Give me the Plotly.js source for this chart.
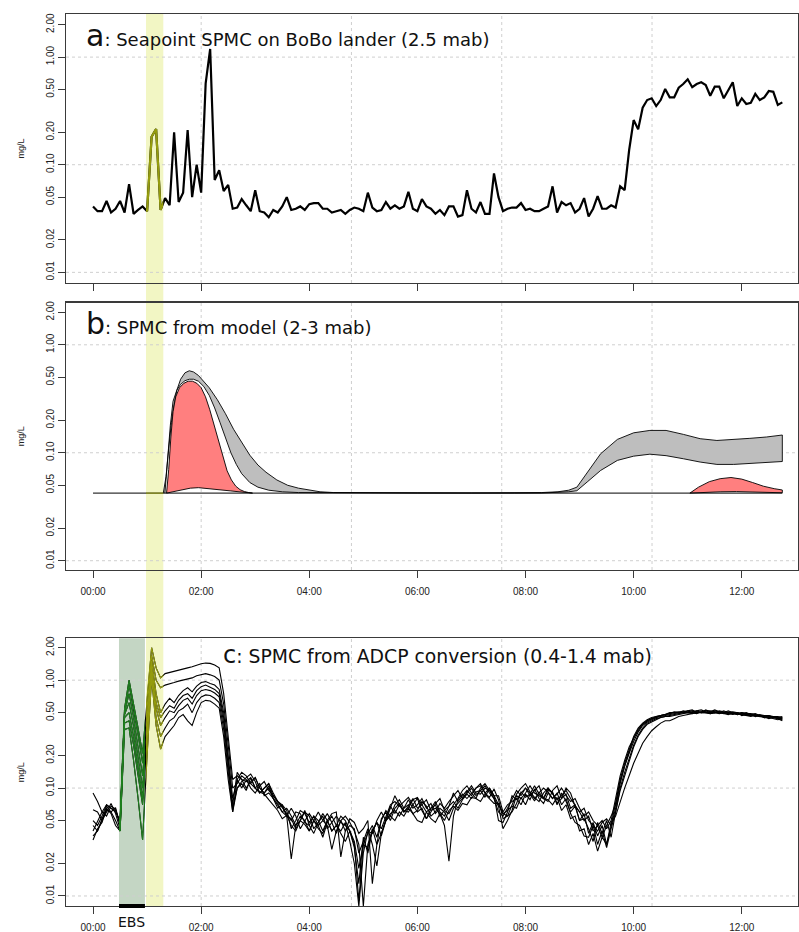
<!DOCTYPE html>
<html><head><meta charset="utf-8">
<script src="https://cdn.plot.ly/plotly-3.0.1.min.js"></script>
<style>html,body{margin:0;padding:0;background:#fff}#chart{width:799px;height:932px}</style>
</head><body><div id="chart"></div>
<script>
// ---------------- DATA ----------------
const sampleStepHours = 5 / 60;               // 5-minute sampling
const timeTickVals = [0, 2, 4, 6, 8, 10, 12];
const timeTickLabels = ["00:00", "02:00", "04:00", "06:00", "08:00", "10:00", "12:00"];
const yTickVals = [0.01, 0.02, 0.05, 0.1, 0.2, 0.5, 1, 2];
const yTickLabels = ["0.01", "0.02", "0.05", "0.10", "0.20", "0.50", "1.00", "2.00"];
const yAxisLabel = "mg/L";
const panelLetters = ["a", "b", "c"];
const panelTitles = [": Seapoint SPMC on BoBo lander (2.5 mab)", ": SPMC from model (2-3 mab)", ": SPMC from ADCP conversion (0.4-1.4 mab)"];
const yellowWindow = [0.98, 1.30];   // hours
const ebsWindow = [0.48, 0.96];      // hours
const ebsLabel = "EBS";
const gridTimes = [2.0, 4.78, 7.56, 10.34];
const gridLevels = [0.01, 0.1, 1];

// Panel a: Seapoint SPMC (mg/L), 5-min samples from 00:00
const seapointSPMC = [
0.041,0.037,0.037,0.046,0.036,0.039,0.046,0.036,0.066,0.035,0.038,0.041,
0.037,0.182,0.215,0.038,0.049,0.042,0.200,0.045,0.055,0.210,0.050,0.100,
0.055,0.57,1.19,0.072,0.089,0.057,0.065,0.039,0.040,0.048,0.042,0.037,
0.058,0.037,0.036,0.0325,0.038,0.036,0.041,0.050,0.038,0.039,0.041,0.038,
0.043,0.044,0.044,0.039,0.039,0.036,0.037,0.038,0.035,0.038,0.040,0.039,
0.037,0.055,0.040,0.037,0.038,0.045,0.039,0.042,0.039,0.041,0.056,0.039,
0.037,0.048,0.041,0.039,0.035,0.038,0.034,0.041,0.041,0.033,0.034,0.058,
0.039,0.036,0.045,0.035,0.035,0.083,0.050,0.037,0.039,0.040,0.040,0.044,
0.038,0.039,0.037,0.037,0.039,0.041,0.063,0.036,0.045,0.042,0.044,0.036,
0.039,0.049,0.033,0.039,0.051,0.039,0.039,0.042,0.040,0.063,0.058,0.137,
0.260,0.213,0.339,0.399,0.414,0.351,0.399,0.505,0.423,0.423,0.520,0.562,
0.622,0.525,0.562,0.583,0.551,0.437,0.531,0.531,0.414,0.494,0.583,0.351,
0.414,0.367,0.376,0.455,0.399,0.423,0.484,0.476,0.359,0.380];

// Panel b: model envelope curves (hours, mg/L)
const modelBaseT = [0, 12.75];
const modelBaseV = [0.0423, 0.0423];
const grayHiT = [1.30,1.35,1.40,1.45,1.50,1.55,1.62,1.70,1.78,1.86,1.95,2.05,2.15,2.30,2.45,2.60,2.75,2.90,3.05,3.20,3.40,3.60,3.80,4.00,4.20,4.45,5.0,6.0,7.0,7.8,8.3,8.6,8.8,8.95,9.14,9.39,9.7,10.0,10.3,10.6,10.92,11.23,11.54,11.85,12.15,12.46,12.75];
const grayHiV = [0.0423,0.06,0.11,0.19,0.28,0.38,0.48,0.55,0.575,0.56,0.52,0.46,0.40,0.31,0.23,0.165,0.125,0.095,0.077,0.066,0.056,0.05,0.047,0.045,0.0435,0.0428,0.0425,0.0424,0.0424,0.0425,0.0428,0.0435,0.045,0.048,0.066,0.098,0.133,0.153,0.161,0.161,0.148,0.135,0.130,0.132,0.136,0.140,0.146];
const grayLoT = [1.33,1.38,1.43,1.48,1.55,1.62,1.70,1.78,1.86,1.95,2.05,2.15,2.25,2.35,2.45,2.55,2.65,2.75,2.90,3.05,3.25,3.50,3.80,4.20,4.45,5.0,6.0,7.0,7.8,8.3,8.6,8.8,8.95,9.14,9.39,9.7,10.0,10.3,10.6,10.92,11.23,11.54,11.85,12.15,12.46,12.75];
const grayLoV = [0.0423,0.08,0.18,0.3,0.38,0.43,0.465,0.48,0.48,0.46,0.41,0.34,0.26,0.19,0.135,0.10,0.078,0.064,0.053,0.048,0.045,0.0435,0.0428,0.0424,0.0423,0.0423,0.0423,0.0423,0.0423,0.0424,0.0428,0.0435,0.0445,0.0536,0.0686,0.085,0.093,0.097,0.094,0.088,0.082,0.078,0.078,0.079,0.081,0.083];
const red1HiT = [1.36,1.40,1.44,1.48,1.53,1.60,1.68,1.76,1.84,1.92,2.00,2.08,2.16,2.24,2.32,2.40,2.48,2.56,2.64,2.72,2.80,2.88,2.95];
const red1HiV = [0.0423,0.07,0.14,0.24,0.33,0.40,0.44,0.46,0.46,0.44,0.40,0.33,0.25,0.18,0.125,0.09,0.068,0.056,0.049,0.0455,0.0437,0.0428,0.0423];
const red1LoT = [1.36,1.5,1.65,1.8,1.95,2.1,2.25,2.4,2.55,2.7,2.85,2.95];
const red1LoV = [0.0423,0.0435,0.0455,0.047,0.0475,0.0472,0.0462,0.0452,0.0443,0.0435,0.0427,0.0423];
const red2HiT = [11.04,11.2,11.4,11.6,11.8,12.0,12.2,12.4,12.6,12.75];
const red2HiV = [0.0423,0.048,0.054,0.0575,0.059,0.057,0.053,0.049,0.0465,0.0452];
const red2LoT = [11.04,11.3,11.6,11.9,12.2,12.5,12.75];
const red2LoV = [0.0423,0.043,0.0435,0.0437,0.0435,0.043,0.0426];

// Panel c: ADCP-derived SPMC, 7 bins, 5-min samples from 00:00
const adcpBin1 = [0.09,0.075,0.06,0.07,0.065,0.06,0.05,0.55,1.0,0.62,0.36,0.21,0.7,2.0,1.3,1.05,1.15,1.18,1.22,1.25,1.28,1.3,1.33,1.38,1.42,1.44,1.43,1.38,1.3,0.75,0.3,0.12,
0.13,0.12,0.1,0.115,0.125,0.1,0.09,0.1,0.08,0.07,0.06,0.065,
0.055,0.045,0.05,0.06,0.055,0.042,0.048,0.058,0.05,0.04,0.045,0.055,
0.05,0.04,0.03,0.009,0.03,0.038,0.045,0.035,0.05,0.062,0.055,0.07,
0.078,0.065,0.07,0.058,0.062,0.075,0.068,0.055,0.06,0.072,0.065,0.075,
0.085,0.095,0.08,0.09,0.1,0.085,0.095,0.105,0.09,0.08,0.06,0.055,
0.065,0.08,0.095,0.085,0.1,0.09,0.08,0.09,0.1,0.092,0.08,0.088,
0.1,0.085,0.075,0.08,0.065,0.055,0.06,0.05,0.045,0.05,0.042,0.05,
0.08,0.13,0.18,0.24,0.29,0.35,0.39,0.42,0.44,0.46,0.47,0.48,
0.5,0.5,0.51,0.51,0.52,0.5,0.52,0.53,0.51,0.5,0.52,0.51,
0.5,0.51,0.49,0.5,0.48,0.49,0.47,0.48,0.47,0.46,0.47,0.46,
0.45,0.46];
const adcpBin2 = [0.063,0.06,0.05,0.068,0.06,0.066,0.045,0.52,0.9,0.55,0.31,0.17,0.55,1.7,1.0,0.85,0.9,0.92,0.95,0.98,1.0,1.02,1.05,1.1,1.13,1.15,1.12,1.08,1.0,0.6,0.25,0.1,
0.11,0.13,0.12,0.1,0.09,0.105,0.115,0.095,0.085,0.075,0.068,0.055,
0.022,0.045,0.055,0.05,0.04,0.05,0.06,0.05,0.045,0.027,0.04,0.05,
0.055,0.048,0.04,0.03,0.008,0.03,0.04,0.048,0.042,0.055,0.07,0.075,
0.068,0.075,0.082,0.07,0.06,0.065,0.052,0.06,0.072,0.08,0.062,0.058,
0.07,0.08,0.095,0.105,0.09,0.08,0.1,0.11,0.095,0.085,0.07,0.058,
0.055,0.07,0.088,0.1,0.11,0.092,0.082,0.075,0.09,0.1,0.088,0.078,
0.085,0.095,0.08,0.07,0.06,0.065,0.05,0.045,0.04,0.048,0.052,0.045,
0.075,0.12,0.17,0.23,0.3,0.36,0.4,0.43,0.45,0.46,0.47,0.48,
0.49,0.5,0.5,0.52,0.51,0.52,0.51,0.5,0.53,0.51,0.5,0.52,
0.51,0.5,0.5,0.49,0.5,0.48,0.48,0.47,0.48,0.47,0.46,0.46,
0.46,0.45];
const adcpBin3 = [0.05,0.045,0.055,0.07,0.065,0.062,0.048,0.5,0.75,0.45,0.24,0.13,0.45,1.5,0.75,0.5,0.6,0.68,0.62,0.72,0.8,0.85,0.78,0.88,0.95,0.97,0.93,0.9,0.82,0.5,0.2,0.08,
0.12,0.14,0.13,0.11,0.1,0.09,0.1,0.11,0.085,0.075,0.065,0.058,
0.05,0.06,0.058,0.048,0.045,0.055,0.05,0.04,0.05,0.058,0.06,0.023,
0.04,0.052,0.048,0.038,0.042,0.05,0.013,0.03,0.038,0.05,0.065,0.085,
0.07,0.06,0.065,0.078,0.082,0.07,0.06,0.065,0.075,0.06,0.055,0.068,
0.09,0.075,0.085,0.095,0.085,0.1,0.11,0.09,0.1,0.085,0.05,0.048,
0.06,0.085,0.078,0.09,0.1,0.085,0.095,0.105,0.08,0.1,0.09,0.072,
0.08,0.1,0.09,0.068,0.06,0.05,0.055,0.04,0.045,0.035,0.045,0.055,
0.07,0.115,0.16,0.22,0.29,0.34,0.39,0.42,0.44,0.45,0.47,0.48,
0.49,0.51,0.5,0.5,0.52,0.53,0.5,0.51,0.52,0.52,0.51,0.5,
0.52,0.5,0.51,0.5,0.49,0.5,0.48,0.49,0.47,0.47,0.47,0.45,
0.45,0.44];
const adcpBin4 = [0.045,0.04,0.05,0.06,0.072,0.058,0.042,0.48,0.62,0.37,0.19,0.1,0.38,1.35,0.62,0.45,0.52,0.58,0.55,0.65,0.72,0.75,0.68,0.8,0.87,0.9,0.86,0.82,0.75,0.45,0.18,0.07,
0.14,0.12,0.115,0.125,0.1,0.11,0.085,0.09,0.08,0.065,0.07,0.055,
0.065,0.055,0.042,0.05,0.058,0.05,0.045,0.035,0.048,0.055,0.045,0.04,
0.048,0.032,0.02,0.008,0.025,0.04,0.038,0.05,0.06,0.05,0.058,0.062,
0.055,0.065,0.078,0.065,0.07,0.08,0.065,0.072,0.058,0.065,0.06,0.05,
0.065,0.072,0.08,0.092,0.105,0.09,0.088,0.1,0.095,0.08,0.068,0.042,
0.05,0.062,0.085,0.08,0.09,0.105,0.09,0.085,0.08,0.075,0.095,0.105,
0.08,0.088,0.065,0.07,0.05,0.058,0.038,0.048,0.036,0.045,0.03,0.045,
0.065,0.11,0.16,0.21,0.27,0.33,0.38,0.41,0.43,0.45,0.46,0.47,
0.48,0.49,0.5,0.51,0.5,0.51,0.52,0.5,0.5,0.51,0.53,0.51,
0.5,0.52,0.5,0.48,0.5,0.49,0.49,0.48,0.46,0.47,0.45,0.46,
0.44,0.45];
const adcpBin5 = [0.04,0.05,0.06,0.055,0.068,0.064,0.046,0.45,0.5,0.3,0.16,0.08,0.32,1.25,0.55,0.38,0.45,0.52,0.5,0.58,0.65,0.68,0.6,0.72,0.8,0.82,0.8,0.76,0.7,0.4,0.16,0.065,
0.1,0.115,0.125,0.135,0.115,0.09,0.1,0.11,0.09,0.075,0.07,0.062,
0.042,0.05,0.062,0.058,0.048,0.055,0.045,0.05,0.058,0.048,0.038,0.05,
0.04,0.045,0.042,0.025,0.032,0.042,0.03,0.019,0.038,0.05,0.068,0.058,
0.07,0.06,0.068,0.08,0.065,0.07,0.078,0.062,0.065,0.058,0.045,0.021,
0.055,0.078,0.088,0.08,0.09,0.1,0.105,0.09,0.082,0.098,0.078,0.052,
0.055,0.06,0.072,0.092,0.082,0.088,0.105,0.088,0.08,0.095,0.092,0.07,
0.09,0.075,0.06,0.068,0.05,0.052,0.042,0.032,0.048,0.038,0.05,0.035,
0.06,0.1,0.14,0.19,0.25,0.31,0.36,0.4,0.42,0.44,0.45,0.46,
0.47,0.48,0.49,0.5,0.5,0.49,0.51,0.5,0.52,0.5,0.5,0.5,
0.49,0.5,0.49,0.5,0.47,0.48,0.48,0.46,0.47,0.45,0.46,0.45,
0.45,0.43];
const adcpBin6 = [0.036,0.04,0.052,0.062,0.06,0.05,0.04,0.4,0.42,0.25,0.13,0.07,0.28,1.15,0.45,0.3,0.36,0.42,0.45,0.52,0.55,0.6,0.5,0.62,0.7,0.73,0.72,0.68,0.62,0.35,0.14,0.06,
0.12,0.1,0.118,0.11,0.125,0.1,0.09,0.105,0.08,0.072,0.06,0.055,
0.052,0.042,0.05,0.062,0.045,0.038,0.048,0.055,0.042,0.048,0.055,0.048,
0.045,0.04,0.032,0.018,0.03,0.028,0.042,0.03,0.052,0.06,0.05,0.065,
0.072,0.062,0.06,0.07,0.08,0.062,0.052,0.065,0.07,0.055,0.062,0.068,
0.075,0.065,0.078,0.088,0.08,0.092,0.095,0.082,0.1,0.085,0.085,0.06,
0.07,0.075,0.08,0.07,0.088,0.078,0.098,0.08,0.072,0.09,0.08,0.09,
0.07,0.08,0.058,0.048,0.045,0.036,0.035,0.045,0.03,0.04,0.028,0.042,
0.06,0.095,0.13,0.18,0.24,0.3,0.35,0.39,0.41,0.43,0.45,0.46,
0.46,0.47,0.48,0.49,0.5,0.5,0.49,0.51,0.5,0.49,0.5,0.51,
0.49,0.48,0.5,0.48,0.49,0.47,0.47,0.47,0.46,0.45,0.45,0.44,
0.43,0.44];
const adcpBin7 = [0.033,0.042,0.048,0.065,0.058,0.045,0.04,0.35,0.36,0.18,0.08,0.033,0.2,1.05,0.38,0.23,0.3,0.34,0.38,0.45,0.48,0.42,0.38,0.5,0.62,0.65,0.64,0.6,0.55,0.3,0.12,0.06,
0.1,0.11,0.095,0.125,0.1,0.092,0.088,0.078,0.07,0.062,0.052,0.056,
0.045,0.04,0.05,0.046,0.04,0.05,0.042,0.038,0.05,0.04,0.045,0.038,
0.032,0.04,0.028,0.013,0.035,0.025,0.04,0.048,0.036,0.05,0.055,0.05,
0.06,0.055,0.065,0.058,0.05,0.048,0.06,0.052,0.048,0.058,0.05,0.062,
0.068,0.062,0.072,0.07,0.082,0.08,0.075,0.088,0.08,0.072,0.072,0.058,
0.062,0.068,0.065,0.082,0.07,0.088,0.076,0.092,0.08,0.078,0.07,0.082,
0.062,0.07,0.052,0.055,0.04,0.042,0.03,0.038,0.026,0.035,0.03,0.048,
0.055,0.075,0.1,0.13,0.17,0.21,0.26,0.3,0.34,0.37,0.4,0.42,
0.42,0.44,0.46,0.47,0.48,0.49,0.5,0.5,0.5,0.49,0.5,0.49,
0.5,0.49,0.48,0.49,0.48,0.47,0.46,0.47,0.46,0.46,0.44,0.45,
0.44,0.42];
const adcpBins = [adcpBin1, adcpBin2, adcpBin3, adcpBin4, adcpBin5, adcpBin6, adcpBin7];

// ---------------- STYLE / LAYOUT ----------------
const W = 799, H = 932;
const M = {l: 66, r: 1, t: 14, b: 26};
const xRange = [-0.5, 13.04];
const frameColor = '#3a3a3a';
const yellowFill = 'rgb(242,246,196)';
const greenFill = 'rgb(196,214,196)';
const oliveLine = '#959c0e';
const greenLine = '#1f7f1f';
const tickFont = {family: 'Liberation Sans, Arial, sans-serif', size: 10, color: '#222'};

const timesOf = arr => arr.map((_, i) => i * sampleStepHours);
const dom = t => (t - xRange[0]) / (xRange[1] - xRange[0]);

function xAxis(anchor, showLabels) {
  return {domain: [0, 1], range: xRange, autorange: false, anchor: anchor, type: 'linear',
    tickmode: 'array', tickvals: timeTickVals, ticktext: timeTickLabels, showticklabels: showLabels,
    ticks: 'outside', ticklen: 7, tickwidth: 1, tickcolor: frameColor, tickfont: tickFont, ticklabelstandoff: 5,
    showgrid: false, zeroline: false, showline: true, mirror: true, linecolor: frameColor, linewidth: 1.4,
    automargin: false, fixedrange: true};
}
function yAxis(domain, range, anchor) {
  return {domain: domain, type: 'log', range: range, autorange: false, anchor: anchor,
    tickmode: 'array', tickvals: yTickVals, ticktext: yTickLabels, tickangle: -90,
    ticks: 'outside', ticklen: 7, tickwidth: 1, tickcolor: frameColor, tickfont: tickFont,
    showgrid: false, zeroline: false, showline: true, mirror: true, linecolor: frameColor, linewidth: 1.4,
    title: {text: yAxisLabel, font: {family: 'Liberation Sans, Arial, sans-serif', size: 9, color: '#222'}, standoff: 18},
    automargin: false, fixedrange: true};
}

const traces = [];
// Panel a
const tA = timesOf(seapointSPMC);
traces.push({type: 'scatter', mode: 'lines', x: tA, y: seapointSPMC, xaxis: 'x', yaxis: 'y',
  line: {color: '#000', width: 2.2}});
traces.push({type: 'scatter', mode: 'lines', x: tA, y: seapointSPMC, xaxis: 'x4', yaxis: 'y',
  line: {color: oliveLine, width: 2.2}});

// Panel b
function bandPoly(hiT, hiV, loT, loV) {
  return {x: hiT.concat(loT.slice().reverse()), y: hiV.concat(loV.slice().reverse())};
}
const gray = bandPoly(grayHiT, grayHiV, grayLoT, grayLoV);
const red1 = bandPoly(red1HiT, red1HiV, red1LoT, red1LoV);
const red2 = bandPoly(red2HiT, red2HiV, red2LoT, red2LoV);
traces.push({type: 'scatter', mode: 'lines', x: gray.x, y: gray.y, fill: 'toself', fillcolor: '#bebebe',
  line: {color: '#000', width: 0.9}, xaxis: 'x2', yaxis: 'y2'});
[red1, red2].forEach(r => traces.push({type: 'scatter', mode: 'lines', x: r.x, y: r.y, fill: 'toself',
  fillcolor: '#ff7f7f', line: {color: '#000', width: 0.9}, xaxis: 'x2', yaxis: 'y2'}));
traces.push({type: 'scatter', mode: 'lines', x: modelBaseT, y: modelBaseV, xaxis: 'x2', yaxis: 'y2',
  line: {color: '#000', width: 1}});
traces.push({type: 'scatter', mode: 'lines', x: modelBaseT, y: modelBaseV, xaxis: 'x4', yaxis: 'y2',
  line: {color: oliveLine, width: 1}});

// Panel c
adcpBins.forEach(bin => {
  const t = timesOf(bin);
  traces.push({type: 'scatter', mode: 'lines', x: t, y: bin, xaxis: 'x3', yaxis: 'y3', line: {color: '#000', width: 1.1}});
});
adcpBins.forEach(bin => {
  const t = timesOf(bin);
  traces.push({type: 'scatter', mode: 'lines', x: t, y: bin, xaxis: 'x5', yaxis: 'y3', line: {color: greenLine, width: 1.1}});
  traces.push({type: 'scatter', mode: 'lines', x: t, y: bin, xaxis: 'x4', yaxis: 'y3', line: {color: oliveLine, width: 1.1}});
});

// Shapes
const shapes = [];
shapes.push({type: 'rect', xref: 'x', yref: 'paper', x0: yellowWindow[0], x1: yellowWindow[1], y0: 0, y1: 1,
  fillcolor: yellowFill, line: {width: 0}, layer: 'below'});
shapes.push({type: 'rect', xref: 'x3', yref: 'y3 domain', x0: ebsWindow[0], x1: ebsWindow[1], y0: 0, y1: 1,
  fillcolor: greenFill, line: {width: 0}, layer: 'below'});
[['x', 'y'], ['x2', 'y2'], ['x3', 'y3']].forEach(([xa, ya]) => {
  gridTimes.forEach(g => shapes.push({type: 'line', xref: xa, yref: ya + ' domain', x0: g, x1: g, y0: 0, y1: 1,
    line: {color: '#cfcfcf', width: 1, dash: 'dot'}, layer: 'below'}));
  gridLevels.forEach(g => shapes.push({type: 'line', xref: xa + ' domain', yref: ya, x0: 0, x1: 1, y0: g, y1: g,
    line: {color: '#cfcfcf', width: 1, dash: 'dot'}, layer: 'below'}));
});
shapes.push({type: 'line', xref: 'x3', yref: 'y3 domain', x0: ebsWindow[0], x1: ebsWindow[1], y0: 0, y1: 0,
  line: {color: '#000', width: 4}, layer: 'above'});

// Annotations (panel titles, EBS)
const titleY = [0.9755, 0.6535, 0.2815];
const titleX = [0.024, 0.024, 0.2115];
const letterSize = [30, 30, 24];
const titleSize = [18, 18, 18.8];
const annotations = panelTitles.map((txt, i) => ({
  xref: 'paper', yref: 'paper', x: titleX[i], y: titleY[i], xanchor: 'left', yanchor: 'middle', showarrow: false,
  text: '<span style="font-size:' + letterSize[i] + 'px">' + panelLetters[i] + '</span>' + txt,
  font: {family: 'DejaVu Sans, Verdana, sans-serif', size: titleSize[i], color: '#111'}
}));
annotations.push({xref: 'x3', yref: 'paper', x: 0.71, y: -0.0175, xanchor: 'center', yanchor: 'middle', showarrow: false,
  text: ebsLabel, font: {family: 'DejaVu Sans, Verdana, sans-serif', size: 14, color: '#111'}});

const plotH = H - M.t - M.b;
const yd = (top, bottom) => [(H - M.b - bottom) / plotH, (H - M.b - top) / plotH];

const layout = {
  width: W, height: H, margin: M, showlegend: false, hovermode: false,
  paper_bgcolor: '#fff', plot_bgcolor: 'rgba(0,0,0,0)',
  xaxis: xAxis('y', false),
  xaxis2: xAxis('y2', true),
  xaxis3: xAxis('y3', true),
  xaxis4: {domain: [dom(yellowWindow[0]), dom(yellowWindow[1])], range: yellowWindow, autorange: false, visible: false, anchor: 'y', fixedrange: true},
  xaxis5: {domain: [dom(ebsWindow[0]), dom(ebsWindow[1])], range: ebsWindow, autorange: false, visible: false, anchor: 'y3', fixedrange: true},
  yaxis: yAxis(yd(14, 283), [-2.099, 0.4005], 'x'),
  yaxis2: yAxis(yd(302.7, 570), [-2.086, 0.39], 'x2'),
  yaxis3: yAxis(yd(638.3, 906), [-2.093, 0.388], 'x3'),
  shapes: shapes,
  annotations: annotations
};

Plotly.newPlot('chart', traces, layout, {staticPlot: true, displayModeBar: false});
</script>
</body></html>
